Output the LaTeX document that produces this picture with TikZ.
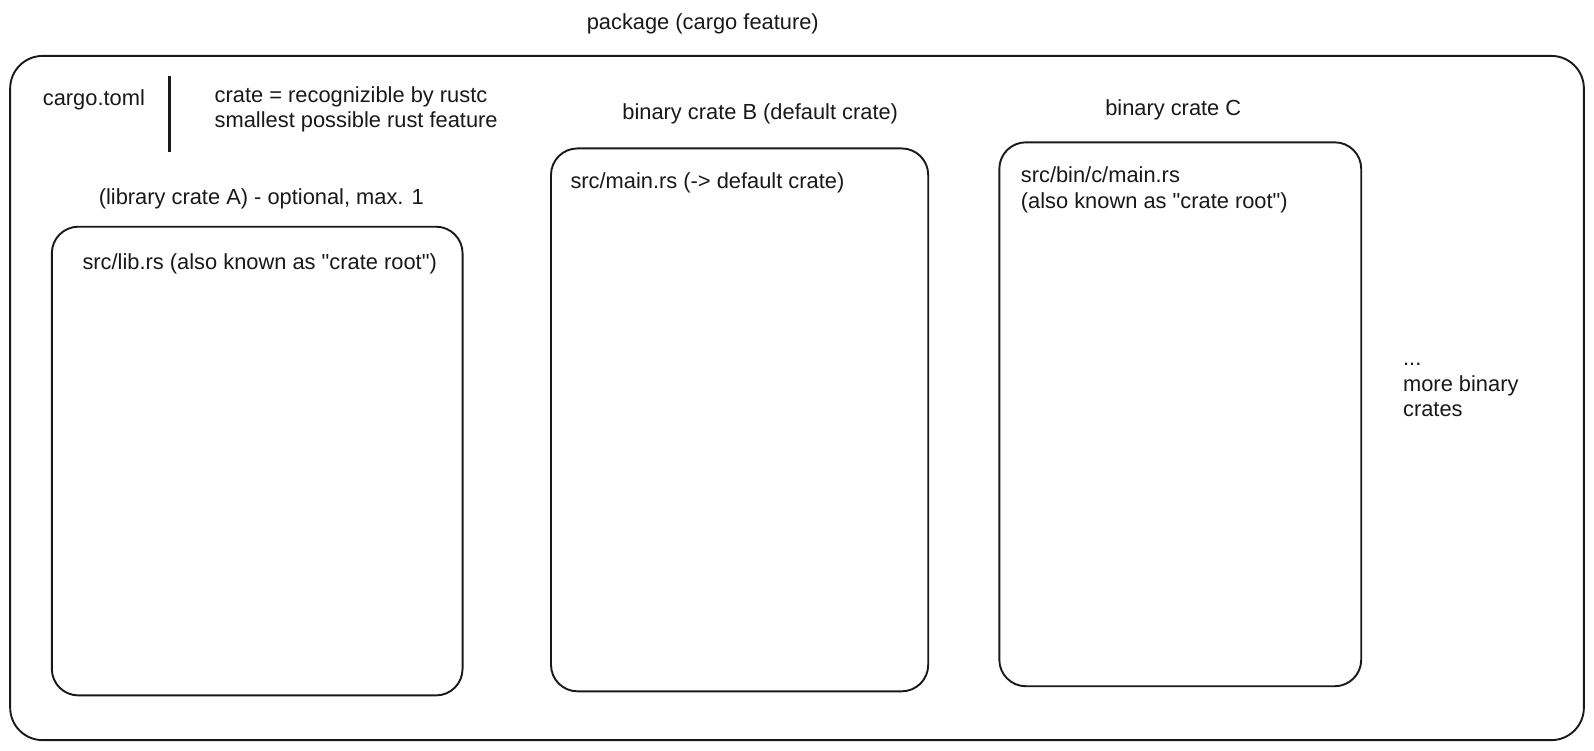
\documentclass[tikz,border=0pt]{standalone}
\usepackage{fontspec}
\setmainfont{Liberation Sans}[Ligatures=TeXOff]
\begin{document}
\begin{tikzpicture}[x=1.0166pt,y=-1.0166pt,
  box/.style={draw=black!90,line width=1.9pt,rounded corners=#1,inner sep=0pt,outer sep=0pt,anchor=north west},
  box/.default=26.5pt,
  lbl/.style={anchor=base west,inner sep=0pt,font=\fontsize{21.85}{24}\selectfont,text=black!90}]
\useasboundingbox[fill=white] (0pt,0pt) rectangle (1594pt,-750pt);
% outer package box
\node[box=32.5pt,minimum width=1573.7pt,minimum height=684.2pt] (pkg) at (10,55) {};
\node[lbl] (pkgt) at (577,29) {package (cargo feature)};
% cargo.toml and separator
\node[lbl] (toml) at (42,104) {cargo.toml};
\coordinate (septop) at (167,75);
\coordinate (sepbot) at (167,150);
\draw[line width=2.8pt,black!90] (septop) -- (sepbot);
\node[lbl] (def1) at (211,101) {crate = recognizible by rustc};
\node[lbl] (def2) at (211,125) {smallest possible rust feature};
% library crate A
\node[lbl] (lA) at (97,201) {(library crate A) - optional, max. 1};
\node[box,minimum width=410.7pt,minimum height=468.7pt] (bA) at (51,223) {};
\node[lbl] (tA) at (81,265) {src/lib.rs (also known as "crate root")};
% binary crate B
\node[lbl] (lB) at (612,118) {binary crate B (default crate)};
\node[box,minimum width=377.2pt,minimum height=542.9pt] (bB) at (542,146) {};
\node[lbl] (tB) at (561,185) {src/main.rs (-> default crate)};
% binary crate C
\node[lbl] (lC) at (1087,114) {binary crate C};
\node[box,minimum width=361.9pt,minimum height=543.9pt] (bC) at (983,140) {};
\node[lbl] (tC1) at (1004,180) {src/bin/c/main.rs};
\node[lbl] (tC2) at (1004,205) {(also known as "crate root")};
% more
\node[lbl] (m1) at (1380,360) {...};
\node[lbl] (m2) at (1380,385) {more binary};
\node[lbl] (m3) at (1380,410) {crates};
\end{tikzpicture}
\end{document}
